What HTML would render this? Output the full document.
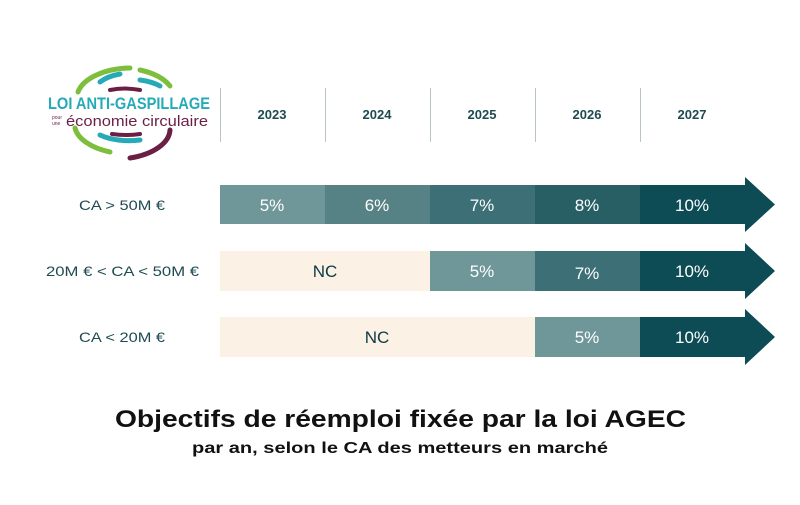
<!DOCTYPE html>
<html><head><meta charset="utf-8"><style>
body{margin:0;width:800px;height:500px;background:#fff;overflow:hidden;font-family:"Liberation Sans","DejaVu Sans",sans-serif;}
</style></head><body>
<svg width="800" height="500" xmlns="http://www.w3.org/2000/svg" font-family="Liberation Sans, DejaVu Sans, sans-serif">
<g fill="none" stroke-width="5" stroke-linecap="round">
<path d="M78,92 A55,30 0 0 1 130,68" stroke="#7dbf3c"/>
<path d="M100,82 A40,20 0 0 1 120,74" stroke="#26aab8"/>
<path d="M140,70 A55,30 0 0 1 170,86" stroke="#7dbf3c"/>
<path d="M140,80 A40,18 0 0 1 160,86" stroke="#26aab8"/>
<path d="M75,128 A55,30 0 0 0 110,152" stroke="#7dbf3c"/>
<path d="M100,135 A40,18 0 0 0 140,140" stroke="#26aab8"/>
<path d="M170,130 A55,30 0 0 1 130,158" stroke="#6b1f44"/>
<path d="M110,90 A30,10 0 0 1 140,90" stroke="#6b1f44" stroke-width="4"/>
<path d="M112,134 A30,8 0 0 0 140,134" stroke="#6b1f44" stroke-width="4"/>
</g>
<text x="48" y="109" font-size="17" font-weight="bold" fill="#26aab8" textLength="162" lengthAdjust="spacingAndGlyphs">LOI ANTI-GASPILLAGE</text>
<text x="52" y="119" font-size="5" fill="#6b1f44">pour</text>
<text x="52" y="125" font-size="5" fill="#6b1f44">une</text>
<text x="66" y="126" font-size="15" fill="#6b1f44" textLength="142" lengthAdjust="spacingAndGlyphs">économie circulaire</text>
<g stroke="#b8c3c5" stroke-width="1">
<line x1="220.5" y1="88" x2="220.5" y2="142"/><line x1="325.5" y1="88" x2="325.5" y2="142"/>
<line x1="430.5" y1="88" x2="430.5" y2="142"/><line x1="535.5" y1="88" x2="535.5" y2="142"/>
<line x1="640.5" y1="88" x2="640.5" y2="142"/>
</g>
<g font-size="13" font-weight="bold" fill="#1e4a52" text-anchor="middle">
<text x="272" y="119">2023</text><text x="377" y="119">2024</text><text x="482" y="119">2025</text><text x="587" y="119">2026</text><text x="692" y="119">2027</text>
</g>
<g font-size="14" fill="#1e4a52">
<text x="79" y="210" textLength="86" lengthAdjust="spacingAndGlyphs">CA &gt; 50M €</text>
<text x="46" y="276" textLength="153" lengthAdjust="spacingAndGlyphs">20M € &lt; CA &lt; 50M €</text>
<text x="79" y="342" textLength="86" lengthAdjust="spacingAndGlyphs">CA &lt; 20M €</text>
</g>
<rect x="220" y="185" width="105" height="39" fill="#6f979a"/>
<rect x="325" y="185" width="105" height="39" fill="#578285"/>
<rect x="430" y="185" width="105" height="39" fill="#3c6f76"/>
<rect x="535" y="185" width="105" height="39" fill="#275f65"/>
<polygon points="640,185 745,185 745,177 775,204.5 745,232 745,224 640,224" fill="#0d4b55"/>
<rect x="220" y="251" width="210" height="40" fill="#fbf1e4"/>
<rect x="430" y="251" width="105" height="40" fill="#6f979a"/>
<rect x="535" y="251" width="105" height="40" fill="#3c6f76"/>
<polygon points="640,251 745,251 745,243 775,271 745,299 745,291 640,291" fill="#0d4b55"/>
<rect x="220" y="317" width="315" height="40" fill="#fbf1e4"/>
<rect x="535" y="317" width="105" height="40" fill="#6f979a"/>
<polygon points="640,317 745,317 745,309 775,337 745,365 745,357 640,357" fill="#0d4b55"/>
<g font-size="17" text-anchor="middle" fill="#fff">
<text x="272" y="211">5%</text><text x="377" y="211">6%</text><text x="482" y="211">7%</text><text x="587" y="211">8%</text><text x="692" y="211">10%</text>
<text x="482" y="277">5%</text><text x="587" y="279">7%</text><text x="692" y="277">10%</text>
<text x="587" y="343">5%</text><text x="692" y="343">10%</text>
</g>
<g font-size="17" text-anchor="middle" fill="#0d3a44">
<text x="325" y="277">NC</text><text x="377" y="343">NC</text>
</g>
<text x="115" y="427" font-size="24" font-weight="bold" fill="#111" textLength="571" lengthAdjust="spacingAndGlyphs">Objectifs de réemploi fixée par la loi AGEC</text>
<text x="192" y="453" font-size="16" font-weight="bold" fill="#111" textLength="416" lengthAdjust="spacingAndGlyphs">par an, selon le CA des metteurs en marché</text>
</svg>
</body></html>
